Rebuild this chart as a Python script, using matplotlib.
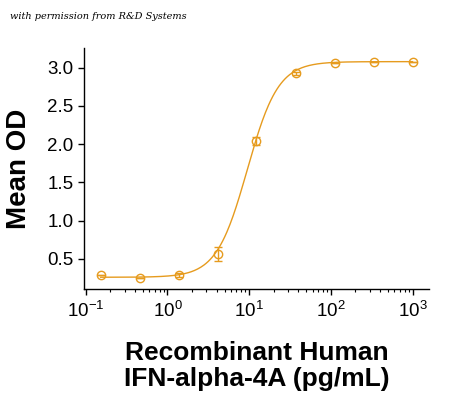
import matplotlib
matplotlib.use("Agg")
import matplotlib.pyplot as plt
import numpy as np

plt.rcParams['font.family'] = ['Liberation Sans', 'DejaVu Sans']
plt.rcParams['mathtext.fontset'] = 'custom'
plt.rcParams['mathtext.rm'] = 'Liberation Sans'

# data
conc = [0.152, 0.457, 1.37, 4.12, 12.3, 37.0, 111.0, 333.0, 1000.0]
mean_od = [0.287, 0.256, 0.287, 0.56, 2.04, 2.93, 3.06, 3.08, 3.08]
err = [0.0, 0.0, 0.03, 0.09, 0.05, 0.02, 0.0, 0.0, 0.0]

# 4PL fit parameters estimated from the curve
bottom, top, ec50, hill = 0.26, 3.08, 9.5, 2.3

col = '#E69B1E'

fig = plt.figure(figsize=(4.5, 3.99), dpi=100)
ax = fig.add_axes([0.187, 0.276, 0.766, 0.604])

xs = np.logspace(np.log10(conc[0]), np.log10(conc[-1]), 300)
fit = bottom + (top - bottom) / (1 + (ec50 / xs) ** hill)
ax.plot(xs, fit, color=col, lw=1.0)
ax.errorbar(conc, mean_od, yerr=err, fmt='o', mfc='none', mec=col, ecolor=col,
            ms=6, mew=1.0, elinewidth=1.0, capsize=3, capthick=1.0)

ax.set_xscale('log')
ax.set_xlim(10 ** -1.02, 10 ** 3.2)
ax.set_ylim(0.108, 3.26)
ax.set_yticks([0.5, 1.0, 1.5, 2.0, 2.5, 3.0])
ax.set_yticklabels(['0.5', '1.0', '1.5', '2.0', '2.5', '3.0'])
ax.set_xticks([0.1, 1, 10, 100, 1000])
ax.set_xticklabels(['$\\mathdefault{10^{-1}}$', '$\\mathdefault{10^{0}}$',
                    '$\\mathdefault{10^{1}}$', '$\\mathdefault{10^{2}}$',
                    '$\\mathdefault{10^{3}}$'])

for s in ['top', 'right']:
    ax.spines[s].set_visible(False)
ax.spines['left'].set_linewidth(1.0)
ax.spines['bottom'].set_linewidth(1.0)
ax.tick_params(axis='both', which='major', labelsize=13.5, length=4, width=1.0, direction='out')
ax.tick_params(axis='x', which='minor', length=2.5, width=0.8)
ax.tick_params(axis='x', pad=5)

ax.set_ylabel('Mean OD', fontsize=20, fontweight='bold', labelpad=11)
ax.set_xlabel('Recombinant Human\nIFN-alpha-4A (pg/mL)', fontsize=19,
              fontweight='bold', labelpad=14, linespacing=1.12)

fig.text(0.022, 0.958, 'with permission from R&D Systems', fontsize=7,
         style='italic', family='DejaVu Serif', va='center')

fig.savefig('out.png', dpi=100)
